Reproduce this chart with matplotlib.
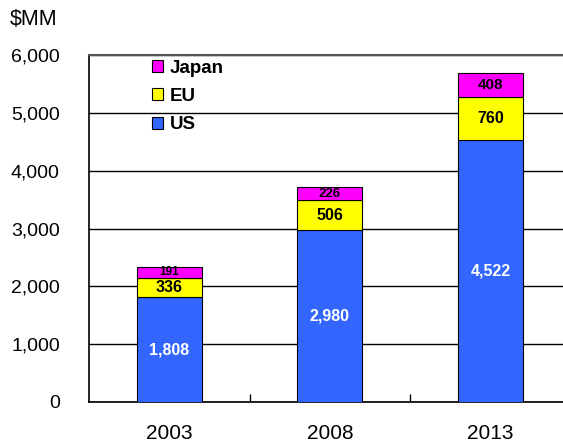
import matplotlib.pyplot as plt
import numpy as np

years = ['2003', '2008', '2013']
us = [1808, 2980, 4522]
eu = [336, 506, 760]
japan = [191, 226, 408]

plt.rcParams['font.family'] = ['Liberation Sans', 'DejaVu Sans']

fig = plt.figure(figsize=(5.63, 4.44), dpi=100)
ax = fig.add_axes([0.158, 0.0946, 0.856, 0.7815])

x = np.arange(len(years))
w = 0.405
us_c, eu_c, jp_c = '#3366FF', '#FFFF00', '#FF00FF'

b_us = ax.bar(x, us, w, color=us_c, edgecolor='black', linewidth=0.8, zorder=3, label='US')
b_eu = ax.bar(x, eu, w, bottom=us, color=eu_c, edgecolor='black', linewidth=0.8, zorder=3, label='EU')
bottom_jp = np.array(us) + np.array(eu)
b_jp = ax.bar(x, japan, w, bottom=bottom_jp, color=jp_c, edgecolor='black', linewidth=0.8, zorder=3, label='Japan')

# segment labels
us_fs = [11.5, 11.5, 11.5]
eu_fs = [11.5, 11.5, 11.5]
jp_fs = [8.5, 9.5, 11]
for i in range(len(years)):
    ax.text(x[i], us[i] / 2, f'{us[i]:,}', ha='center', va='center', color='white',
            fontsize=us_fs[i], fontweight='bold', zorder=4)
    ax.text(x[i], us[i] + eu[i] / 2, f'{eu[i]:,}', ha='center', va='center', color='black',
            fontsize=eu_fs[i], fontweight='bold', zorder=4)
    ax.text(x[i], bottom_jp[i] + japan[i] / 2, f'{japan[i]:,}', ha='center', va='center', color='black',
            fontsize=jp_fs[i], fontweight='bold', zorder=4)

ax.set_ylim(0, 6000)
ax.set_xlim(-0.5, 2.5)
ax.set_yticks(range(0, 6001, 1000))
ax.set_yticklabels([f'{v:,}' for v in range(0, 6001, 1000)], fontsize=14)
ax.yaxis.grid(True, color='black', linewidth=1.0, zorder=0)
ax.set_axisbelow(True)
ax.tick_params(axis='y', length=0, pad=21)

ax.set_xticks(x)
ax.set_xticklabels(years, fontsize=15)
ax.tick_params(axis='x', length=0, pad=16)
ax.set_xticks([0.5, 1.5], minor=True)
ax.tick_params(axis='x', which='minor', direction='in', length=6, width=1, color='black')

for s in ['left', 'bottom']:
    ax.spines[s].set_linewidth(1.2)
ax.spines['top'].set_color('#555555')
ax.spines['top'].set_linewidth(1.5)
ax.spines['right'].set_visible(False)

handles = [b_jp, b_eu, b_us]
leg = ax.legend(handles, ['Japan', 'EU', 'US'], loc='upper left', bbox_to_anchor=(0.101, 1.027),
                frameon=False, handlelength=0.6, handleheight=0.6, handletextpad=0.35,
                labelspacing=0.6, borderpad=0.25, prop={'weight': 'bold', 'size': 13.5})

fig.text(0.018, 0.955, '$MM', fontsize=15.5, ha='left', va='center')

plt.savefig('out.png')
